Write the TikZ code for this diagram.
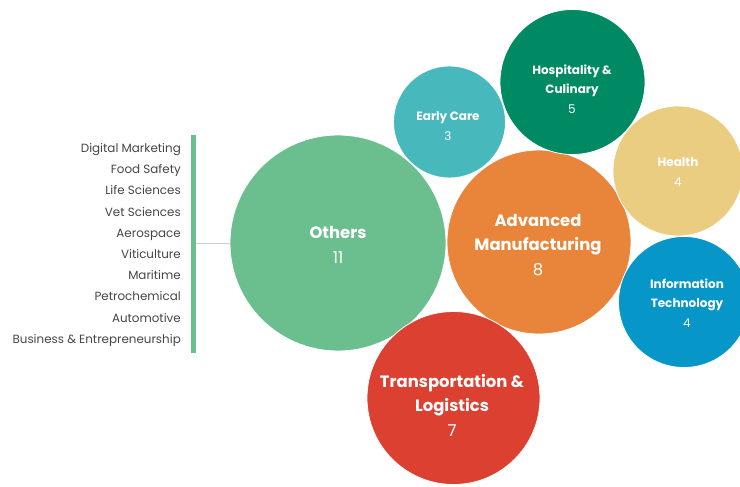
\documentclass[tikz,border=0pt]{standalone}
\usepackage{fontspec}
\setmainfont{Poppins}
\definecolor{cOthers}{HTML}{6BBF8E}
\definecolor{cAdv}{HTML}{E8853A}
\definecolor{cEarly}{HTML}{47B9BD}
\definecolor{cHosp}{HTML}{008A63}
\definecolor{cHealth}{HTML}{EBCD82}
\definecolor{cIT}{HTML}{0696C8}
\definecolor{cTrans}{HTML}{DC4030}
\definecolor{cList}{HTML}{454545}
\definecolor{cLink}{HTML}{CFCFC8}
\begin{document}
\begin{tikzpicture}[x=1pt,y=-1pt,
  bubble/.style={circle, inner sep=0pt, draw=white, line width=0.8pt},
  bigtxt/.style={text=white, font=\fontsize{16.4}{24.5}\selectfont, align=center, inner sep=0pt},
  smalltxt/.style={text=white, font=\fontsize{12}{19.5}\selectfont, align=center, inner sep=0pt},
  item/.style={text=cList, font=\fontsize{11.9}{13}\selectfont, anchor=base east, inner sep=0pt}]
\useasboundingbox (0,0) rectangle (740,487);
\clip (0,0) rectangle (740,487);
% bubbles
\node[bubble, fill=cOthers, minimum size=216pt] (others) at (338,243) {};
\node[bubble, fill=cAdv, minimum size=184pt] (adv) at (539,242) {};
\node[bubble, fill=cEarly, minimum size=112pt] (early) at (449.5,122) {};
\node[bubble, fill=cHosp, minimum size=145pt] (hosp) at (572.5,82) {};
\node[bubble, fill=cHealth, minimum size=130pt] (health) at (678,171) {};
\node[bubble, fill=cIT, minimum size=131pt] (it) at (684,302) {};
\node[bubble, fill=cTrans, minimum size=173pt] (trans) at (453.5,398) {};
% labels
\node[bigtxt] (tOthers) at (338,245) {\textbf{Others}\\11};
\node[bigtxt] (tAdv) at (538,245) {\textbf{Advanced}\\\textbf{Manufacturing}\\8};
\node[bigtxt] (tTrans) at (452,405) {\textbf{Transportation \&}\\\textbf{Logistics}\\7};
\node[smalltxt] (tEarly) at (448,126) {\textbf{Early Care}\\3};
\node[smalltxt] (tHosp) at (572,89) {\textbf{Hospitality \&}\\\textbf{Culinary}\\5};
\node[smalltxt] (tHealth) at (678,172) {\textbf{Health}\\4};
\node[smalltxt] (tIT) at (687,303) {\textbf{Information}\\\textbf{Technology}\\4};
% list bar and connector
\node[fill=cOthers, inner sep=0pt, minimum width=5pt, minimum height=218pt] (bar) at (193.5,244) {};
\draw[cLink, line width=1pt] (bar.east |- others.west) -- (others.west);
% list
\foreach \t [count=\i] in {Digital Marketing, Food Safety, Life Sciences, Vet Sciences, Aerospace, Viticulture, Maritime, Petrochemical, Automotive, Business \& Entrepreneurship}{
  \node[item] (l\i) at (181,{152.5+21.2*(\i-1)}) {\t};
}
\end{tikzpicture}
\end{document}
